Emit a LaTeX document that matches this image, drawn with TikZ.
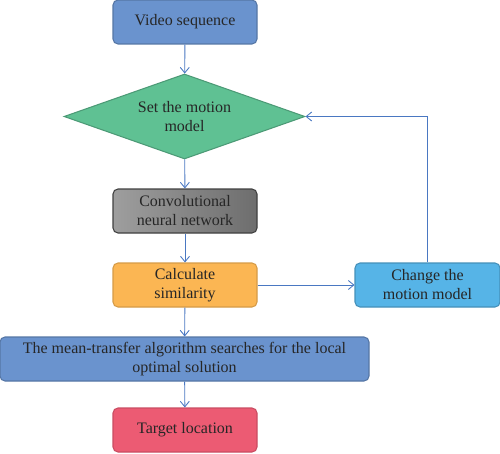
\documentclass[tikz,border=0pt]{standalone}
\usepackage{fontspec}
\setmainfont{Liberation Serif}
\usepackage{tikz}
\usetikzlibrary{arrows.meta,shapes.geometric}
\definecolor{lnblue}{HTML}{4A78C2}
\definecolor{stepblue}{HTML}{6A93CE}
\definecolor{stepgreen}{HTML}{5FC193}
\definecolor{steporange}{HTML}{FBB653}
\definecolor{stepsky}{HTML}{56B4E7}
\definecolor{stepred}{HTML}{EC5B73}
\tikzstyle{box} = [draw, rounded corners=0.1cm, line width=0.6pt, minimum height=0.88cm, minimum width=2.88cm, align=center, font=\fontsize{9.1}{10.8}\selectfont, text=black!85, inner sep=1pt]
\tikzstyle{arrow} = [draw, color=lnblue, line width=0.5pt, -{Straight Barb[length=1.1mm,width=1.8mm]}]

\begin{document}
\begin{tikzpicture}
\useasboundingbox (0,0) rectangle (10,9.06);

\node[box,fill=stepblue,draw=stepblue!80!black] at (3.7,8.62) (video) {Video sequence};
\node[diamond,shape aspect=2.8,draw=stepgreen!80!black,fill=stepgreen,line width=0.6pt,inner sep=0pt,minimum width=4.82cm,minimum height=1.7cm,align=center,font=\fontsize{9.1}{10.8}\selectfont,text=black!85] at (3.69,6.73) (motion) {Set the motion\\model};
\node[box,left color=black!38,right color=black!57,draw=black!75] at (3.7,4.84) (cnn) {Convolutional\\neural network};
\node[box,fill=steporange,draw=steporange!85!black] at (3.7,3.36) (simil) {Calculate\\similarity};
\node[box,fill=stepsky,draw=stepsky!80!black,minimum width=2.9cm] at (8.55,3.36) (change) {Change the\\motion model};
\node[box,fill=stepblue,draw=stepblue!80!black,minimum width=7.38cm] at (3.69,1.88) (mean) {The mean-transfer algorithm searches for the local\\optimal solution};
\node[box,fill=stepred,draw=stepred!85!black] at (3.7,0.46) (target) {Target location};

\foreach \a/\b in {video/motion,motion/cnn,cnn/simil,simil/mean,mean/target}
\path [arrow] (\a) -- (\b);
\path [arrow] (simil) -- (change);
\path [arrow] (change.north) |- (motion.east);

\end{tikzpicture}
\end{document}
